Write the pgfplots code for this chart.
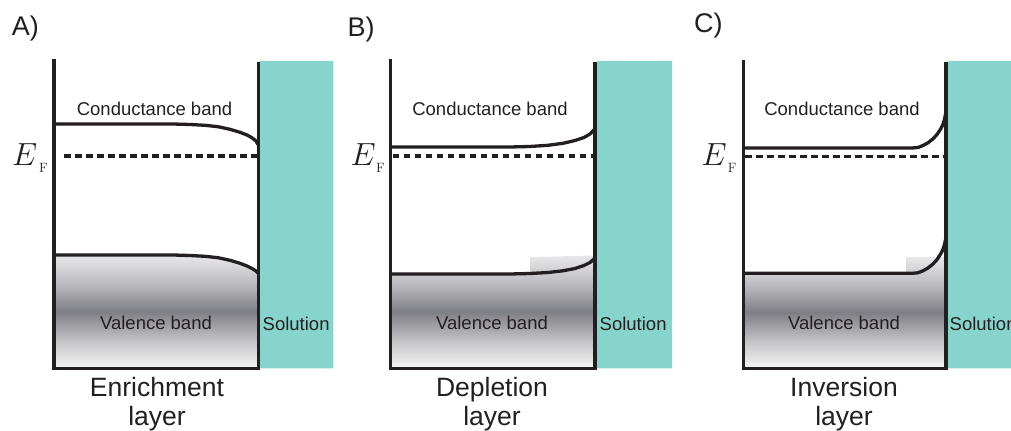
\RequirePackage{fix-cm}
\documentclass[border=0pt]{standalone}
\usepackage[no-math]{fontspec}
\setmainfont{Liberation Sans}
\setsansfont{Liberation Sans}
\usepackage{pgfplots}
\pgfplotsset{compat=1.18}
\definecolor{ink}{HTML}{231F20}
\definecolor{solteal}{RGB}{134,212,204}
\definecolor{vstop}{RGB}{232,232,234}
\definecolor{vs1}{RGB}{188,188,192}
\definecolor{vsdark}{RGB}{126,126,133}
\definecolor{vs3}{RGB}{194,194,197}
\definecolor{vsbot}{RGB}{245,245,245}
\pgfdeclareverticalshading{vband}{100bp}{color(0bp)=(vsbot); color(25bp)=(vsbot); color(37.5bp)=(vs3); color(50bp)=(vsdark); color(62.5bp)=(vs1); color(75bp)=(vstop); color(100bp)=(vstop)}
\tikzset{
  lbl/.style={inner sep=0pt, text=ink},
  band/.style={line width=3.3bp, ink, line join=round},
  frame/.style={line width=3.3bp, ink, line join=miter},
  fermi/.style={line width=3.2bp, ink, dash pattern=on 6.7bp off 4.3bp},
}
\newcommand{\fs}[1]{\fontsize{#1bp}{#1bp}\selectfont}
\begin{document}
\begin{tikzpicture}
\path[use as bounding box] (0,0) rectangle (1011bp,431bp);
\clip (0,0) rectangle (1011bp,431bp);
\begin{axis}[at={(0,0)}, anchor=south west, scale only axis,
  width=1011bp, height=431bp, xmin=0, xmax=1011, ymin=0, ymax=431,
  y dir=reverse, hide axis, clip=false]

% ---------- solution strips ----------
\addplot[draw=none, fill=solteal] coordinates {(259.5,61) (333.3,61) (333.3,368.3) (259.5,368.3) (259.5,61)};
\addplot[draw=none, fill=solteal] coordinates {(597,61) (672,61) (672,368.3) (597,368.3) (597,61)};
\addplot[draw=none, fill=solteal] coordinates {(948,61) (1011,61) (1011,368.3) (948,368.3) (948,61)};

% ---------- valence band shading ----------
\addplot[draw=none, shade, shading=vband] coordinates {(54,368) (54,255) (173,255) (190,255.5) (205,256.3) (218,257.7) (230,260.3) (240,263.3) (247,266) (252,268.5) (256,271) (258,273) (258,368) (54,368)};
\addplot[draw=none, shade, shading=vband] coordinates {(390.7,368) (390.7,274) (530,274) (530,257) (595,255.5) (595,368) (390.7,368)};
\addplot[draw=none, shade, shading=vband] coordinates {(743.3,368) (743.3,273.3) (906,273.3) (906,257) (946,257) (946,368) (743.3,368)};

% ---------- conduction bands ----------
\addplot[band] coordinates {(54,124) (173,124) (190,124.5) (205,125.3) (218,126.7) (230,129.3) (240,132.3) (247,135) (252,137.8) (256,141) (258,144.5)};
\addplot[band] coordinates {(390.7,147) (510,147) (530,146.5) (548,145.3) (563,143.3) (575,140.5) (584,137.5) (590,134) (594,130) (595.5,127)};
\addplot[band] coordinates {(743.3,148) (912,148) (918,147.5) (923,145.5) (928,142.8) (933,138.8) (937,134.5) (940,130) (942.5,125.5) (944.5,119.5) (945.7,113) (946.2,109)};

% ---------- valence bands ----------
\addplot[band] coordinates {(54,255) (173,255) (190,255.5) (205,256.3) (218,257.7) (230,260.3) (240,263.3) (247,266) (252,268.5) (256,271) (258,273)};
\addplot[band] coordinates {(390.7,274) (510,274) (530,273.5) (548,272.5) (563,270.8) (575,268.5) (584,265.5) (590,262.5) (594,259) (595.5,256)};
\addplot[band] coordinates {(743.3,273.3) (912,273.3) (918,272.8) (923,270.8) (928,268) (933,264) (937,259.6) (940,255) (942.5,250.5) (944.5,244.5) (945.7,239) (946.2,236)};

% ---------- Fermi levels ----------
\addplot[fermi] coordinates {(64,156) (258,156)};
\addplot[fermi] coordinates {(392.5,156) (595,156)};
\addplot[fermi] coordinates {(745,156.5) (946,156.5)};

% ---------- frames ----------
\addplot[frame] coordinates {(54,59) (54,368.3) (258.3,368.3) (258.3,61.7)};
\addplot[frame] coordinates {(390.7,59.3) (390.7,368.3) (595,368.3) (595,61.7)};
\addplot[frame] coordinates {(743.3,60) (743.3,368.3) (946,368.3) (946,61.7)};

% ---------- panel letters ----------
\node[lbl, anchor=base west, font=\fs{27}] at (axis cs:11.7,36) {A)};
\node[lbl, anchor=base west, font=\fs{27}] at (axis cs:347.3,36.5) {B)};
\node[lbl, anchor=base west, font=\fs{27}] at (axis cs:694,33) {C)};

% ---------- E_F ----------
\node[lbl, anchor=base west, font=\fs{32}] at (axis cs:12,165) {$E$};
\node[lbl, anchor=base west, font=\fs{13.5}] at (axis cs:39,172) {$\mathrm{F}$};
\node[lbl, anchor=base west, font=\fs{32}] at (axis cs:350.5,165) {$E$};
\node[lbl, anchor=base west, font=\fs{13.5}] at (axis cs:376,172) {$\mathrm{F}$};
\node[lbl, anchor=base west, font=\fs{32}] at (axis cs:701.5,165) {$E$};
\node[lbl, anchor=base west, font=\fs{13.5}] at (axis cs:727.7,172) {$\mathrm{F}$};

% ---------- band labels ----------
\node[lbl, anchor=base, font=\fs{18.5}] at (axis cs:154.5,116) {Conductance band};
\node[lbl, anchor=base, font=\fs{18.5}] at (axis cs:490,116) {Conductance band};
\node[lbl, anchor=base, font=\fs{18.5}] at (axis cs:842,116) {Conductance band};
\node[lbl, anchor=base, font=\fs{18.5}] at (axis cs:156,329.5) {Valence band};
\node[lbl, anchor=base, font=\fs{18.5}] at (axis cs:492,329.5) {Valence band};
\node[lbl, anchor=base, font=\fs{18.5}] at (axis cs:844,329.5) {Valence band};
\node[lbl, anchor=base west, font=\fs{18.5}] at (axis cs:262.5,330) {Solution};
\node[lbl, anchor=base west, font=\fs{18.5}] at (axis cs:599.5,330) {Solution};
\node[lbl, anchor=base west, font=\fs{18.5}] at (axis cs:949.5,330) {Solution};

% ---------- layer names ----------
\node[lbl, anchor=base, font=\fs{26.5}] at (axis cs:157,396) {Enrichment};
\node[lbl, anchor=base, font=\fs{26.5}] at (axis cs:157,425) {layer};
\node[lbl, anchor=base, font=\fs{26.5}] at (axis cs:492,396) {Depletion};
\node[lbl, anchor=base, font=\fs{26.5}] at (axis cs:492,425) {layer};
\node[lbl, anchor=base, font=\fs{26.5}] at (axis cs:844,396) {Inversion};
\node[lbl, anchor=base, font=\fs{26.5}] at (axis cs:844,425) {layer};
\end{axis}
\end{tikzpicture}
\end{document}
